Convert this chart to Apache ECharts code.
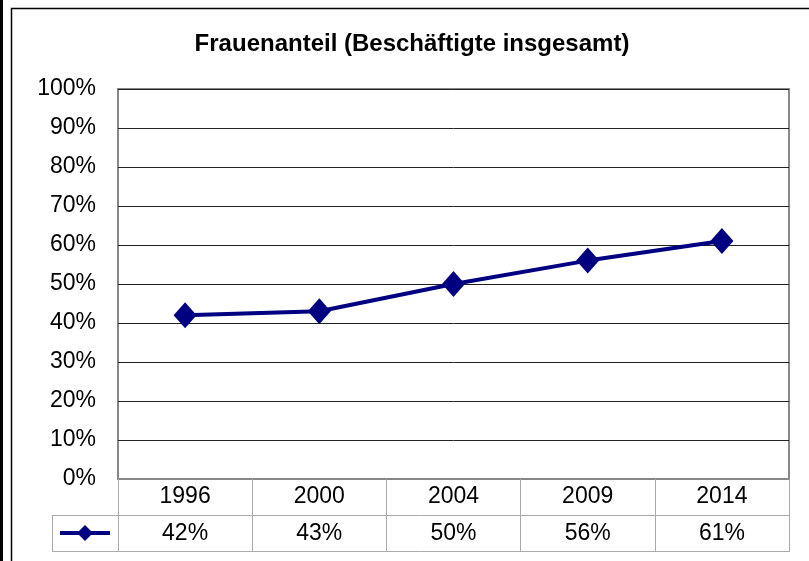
<!DOCTYPE html>
<html><head><meta charset="utf-8">
<script src="https://cdn.jsdelivr.net/npm/echarts@6/dist/echarts.min.js"></script>
<style>html,body{margin:0;padding:0;background:#fff}#c{width:809px;height:561px}</style>
</head><body><div id="c"></div>
<script>
const titleText = 'Frauenanteil (Beschäftigte insgesamt)';
const categories = ['1996', '2000', '2004', '2009', '2014'];
const values = [42, 43, 50, 56, 61];
const yTicks = [0, 10, 20, 30, 40, 50, 60, 70, 80, 90, 100];

const chart = echarts.init(document.getElementById('c'), null, {renderer: 'canvas'});
const font = '"Liberation Sans", Arial, sans-serif';
const L = 118, R = 789, T = 89, B = 479;
chart.setOption({
  animation: false,
  backgroundColor: '#fff',
  title: {
    text: titleText, left: 412, top: 32, textAlign: 'center', padding: 0,
    textStyle: {fontFamily: font, fontSize: 24, fontWeight: 'bold', color: '#000'}
  },
  legend: {
    left: 58, top: 523, padding: 0, itemWidth: 50, itemHeight: 20, formatter: () => '',
    itemGap: 0, selectedMode: false,
    data: [{name: 'Frauenanteil', lineStyle: {width: 4, color: '#000080'}}]
  },
  grid: {left: L, right: 809 - R, top: T, bottom: 561 - B, show: true, borderColor: '#888', borderWidth: 2, backgroundColor: 'transparent'},
  xAxis: [
    {
      type: 'category', data: categories, boundaryGap: true, position: 'bottom',
      axisLine: {show: true, lineStyle: {color: '#888', width: 2}},
      axisTick: {show: true, length: 73, lineStyle: {color: '#aaa', width: 1}},
      axisLabel: {fontFamily: font, fontSize: 23, color: '#000', margin: 6},
      splitLine: {show: false}
    },
    {
      type: 'category', data: values.map(v => v + '%'), boundaryGap: true, position: 'bottom', offset: 37,
      axisLine: {show: false}, axisTick: {show: false},
      axisLabel: {fontFamily: font, fontSize: 23, color: '#000', margin: 6},
      splitLine: {show: false}
    }
  ],
  yAxis: {
    type: 'value', min: yTicks[0], max: yTicks[yTicks.length - 1], interval: 10,
    axisLine: {show: false}, axisTick: {show: false},
    axisLabel: {fontFamily: font, fontSize: 23, color: '#000', margin: 22, padding: [2, 0, 0, 0], formatter: '{value}%'},
    splitLine: {lineStyle: {color: '#222', width: 1}}
  },
  series: [{
    name: 'Frauenanteil', type: 'line', data: values, xAxisIndex: 0,
    symbol: 'diamond', symbolSize: [23, 26],
    lineStyle: {color: '#000080', width: 4},
    itemStyle: {color: '#000080'}
  }],
  graphic: [
    {type: 'rect', shape: {x: 0, y: 0, width: 3, height: 561}, style: {fill: '#000'}, silent: true},
    {type: 'rect', shape: {x: 11.5, y: 8.5, width: 820, height: 600}, style: {fill: null, stroke: '#000', lineWidth: 1.5}, silent: true},
    {type: 'line', shape: {x1: 52, y1: 515.5, x2: R, y2: 515.5}, style: {stroke: '#aaa', lineWidth: 1}, silent: true},
    {type: 'line', shape: {x1: 52, y1: 551.5, x2: R, y2: 551.5}, style: {stroke: '#aaa', lineWidth: 1}, silent: true},
    {type: 'line', shape: {x1: 52.5, y1: 515.5, x2: 52.5, y2: 551.5}, style: {stroke: '#aaa', lineWidth: 1}, silent: true}
  ]
});
</script></body></html>
